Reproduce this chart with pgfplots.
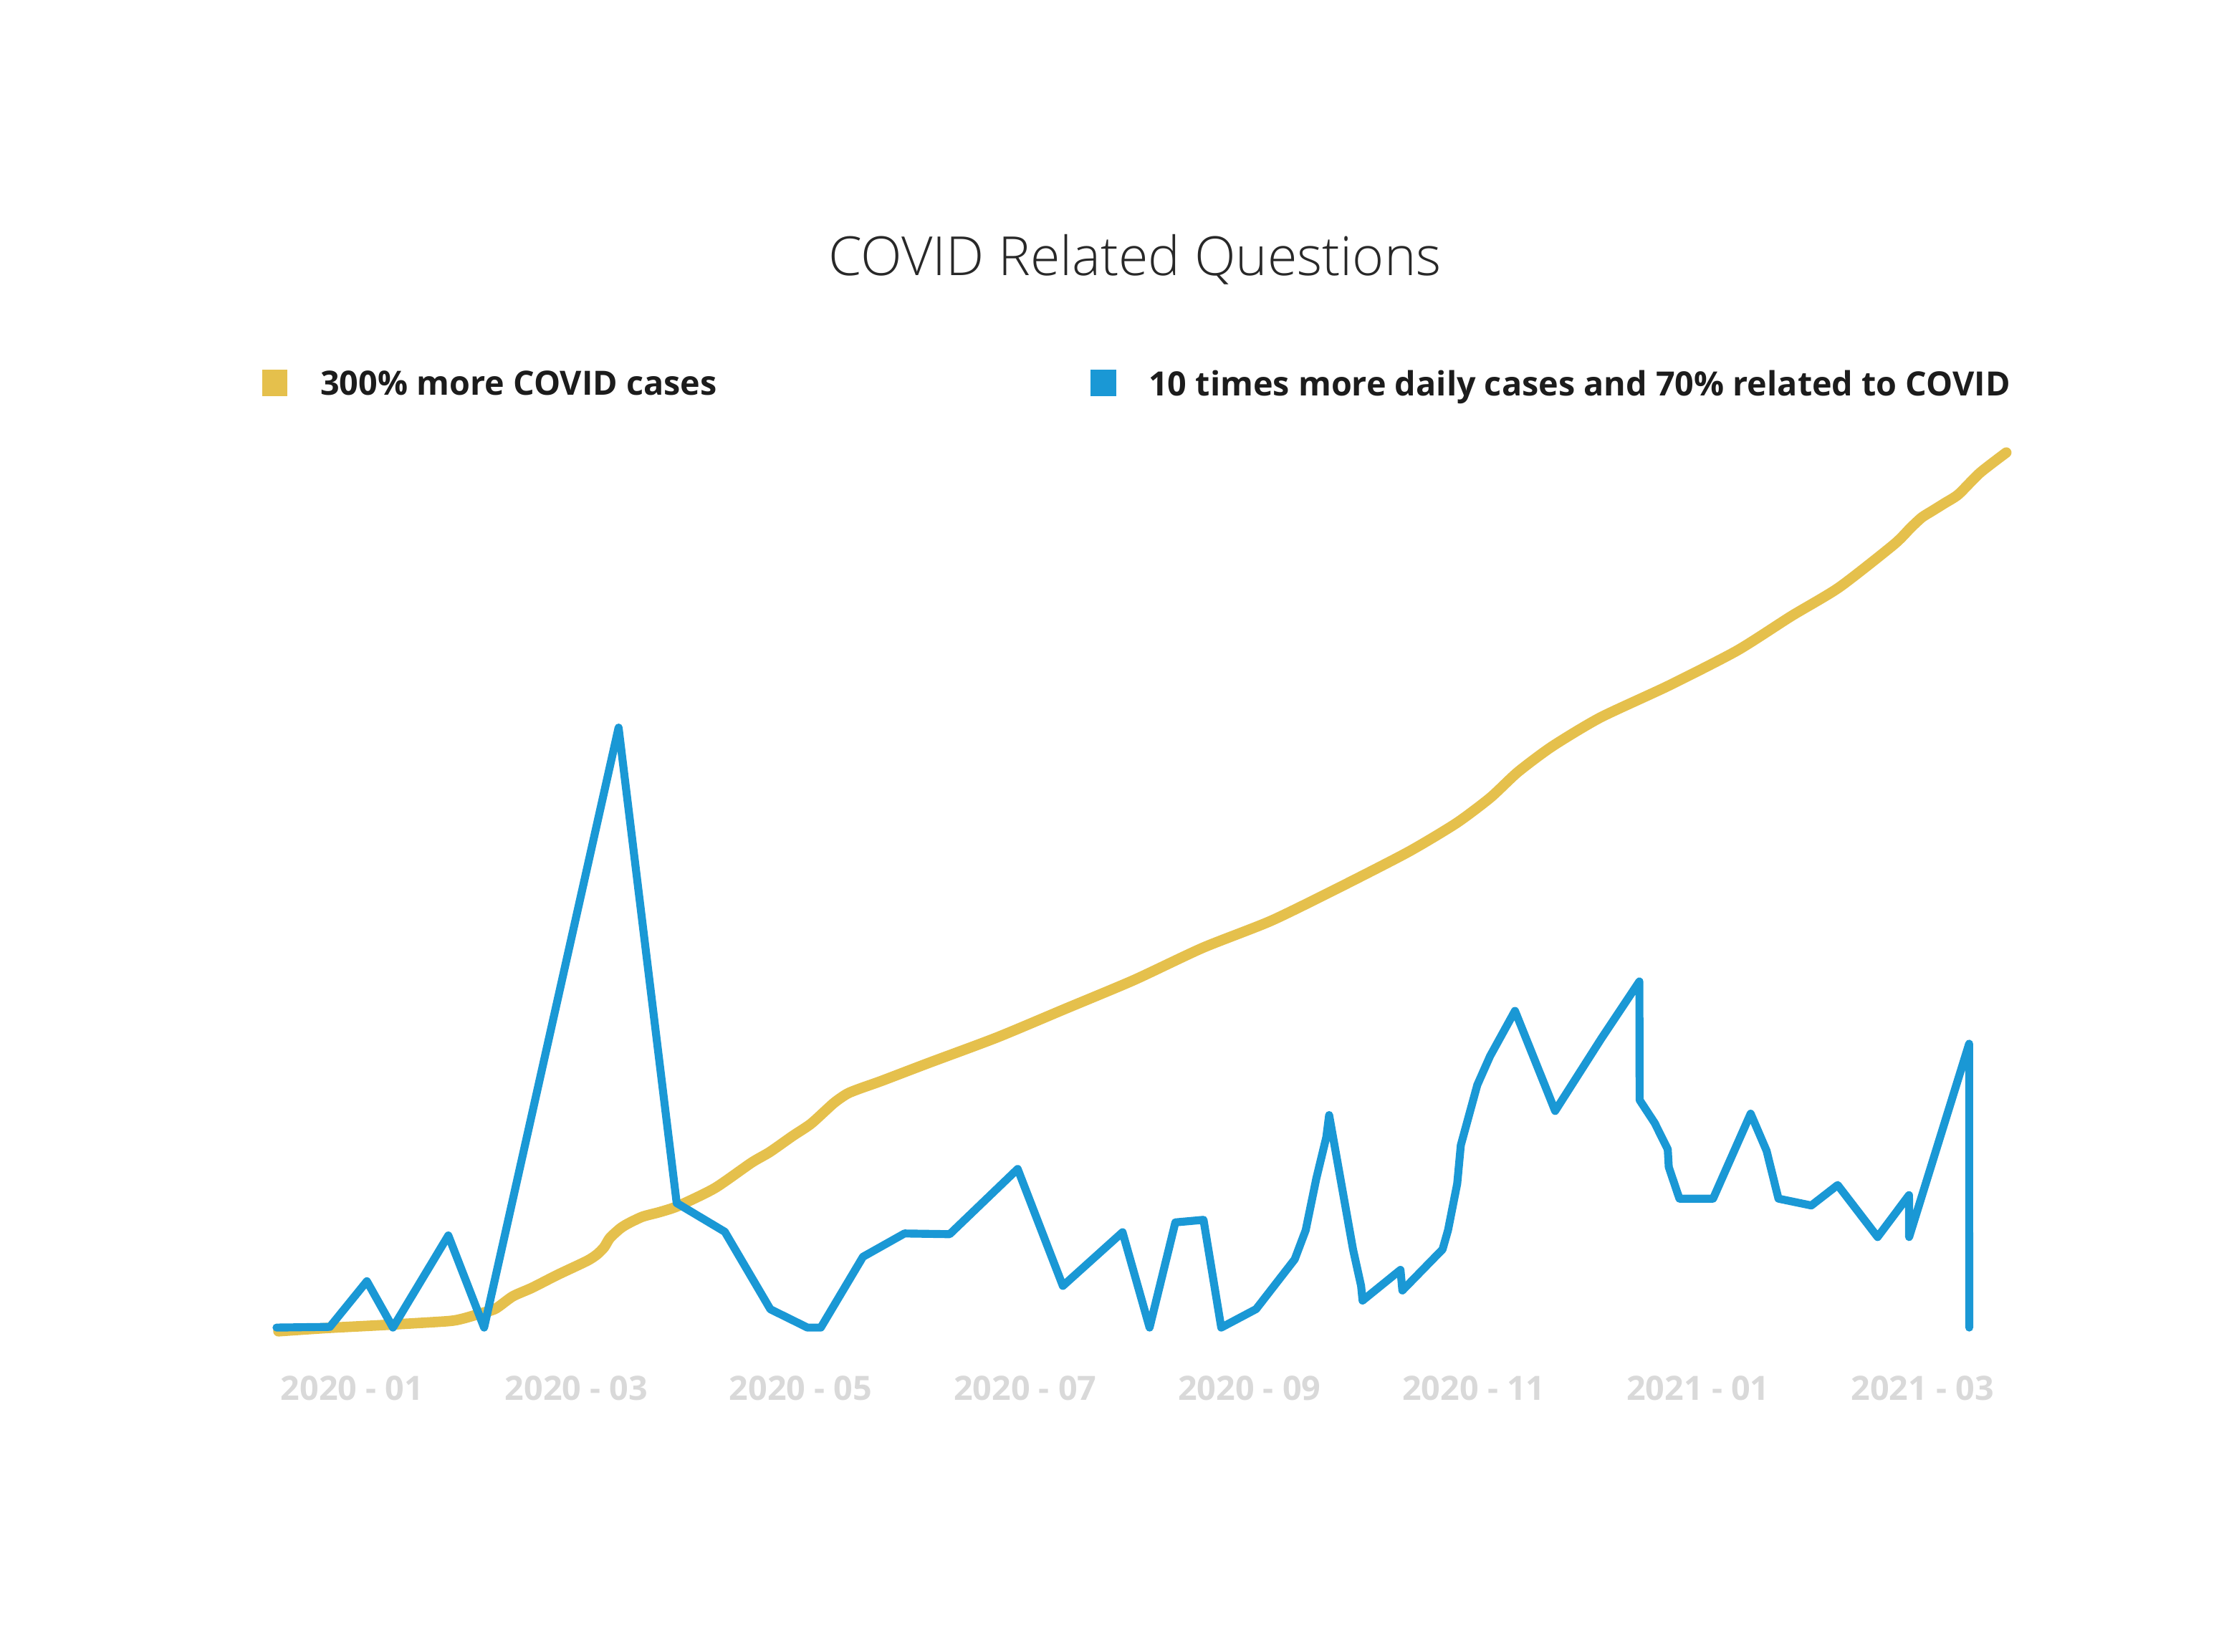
\documentclass[border=0pt]{standalone}
\usepackage{fontspec}
\setmainfont{Open Sans}
\newfontfamily\titlefontfam{Open Sans Light}
\usepackage{pgfplots}
\pgfplotsset{compat=1.18}
\definecolor{covyellow}{RGB}{229,192,76}
\definecolor{covblue}{RGB}{26,152,213}
\definecolor{tickgray}{RGB}{217,217,217}
\definecolor{legtext}{RGB}{28,28,28}
\definecolor{titlecol}{RGB}{40,40,40}
\begin{document}
\begin{tikzpicture}
\path[use as bounding box] (0,0) rectangle (15.68cm,11.62cm);
\begin{axis}[
  at={(1.945cm,2.28cm)}, anchor=south west,
  scale only axis, width=12.168cm, height=6.16cm,
  xmin=-0.674, xmax=14.748, ymin=0, ymax=616,
  clip=false,
  axis line style={draw=none},
  tick style={draw=none}, major tick length=0pt,
  ytick=\empty,
  xtick={0,2,4,6,8,10,12,14},
  xticklabels={{2020 - 01},{2020 - 03},{2020 - 05},{2020 - 07},{2020 - 09},{2020 - 11},{2021 - 01},{2021 - 03}},
  xticklabel style={font=\bfseries\fontsize{6.7pt}{8pt}\selectfont, text=tickgray, anchor=base, yshift=-0.51cm, inner sep=0pt},
  every axis title shift=0pt,
  title={COVID Related Questions},
  title style={at={(axis description cs:0.4962,1.2013)}, anchor=base, font=\titlefontfam\fontsize{10.8pt}{13pt}\selectfont, text=titlecol, inner sep=0pt},
  legend columns=2,
  legend cell align=left,
  legend image code/.code={\fill[draw=none] (0cm,-0.065cm) rectangle (0.178cm,0.12cm);},
  legend style={at={(axis description cs:-0.0082,1.0748)}, anchor=west, draw=none, fill=none, inner sep=0pt, outer sep=0pt,
    font=\bfseries\fontsize{6.7pt}{8pt}\selectfont, text=legtext, nodes={inner sep=0pt},
    /tikz/every odd column/.append style={column sep=0.23cm},
    /tikz/every even column/.append style={column sep=2.63cm}},
]
\addplot[color=covyellow, line width=2.1pt, line join=round, line cap=round, smooth, tension=0.4] coordinates {
(-0.657,-2.6) (-0.224,-0.3) (0.283,1.8) (0.853,4.5) (0.992,6.4) (1.148,10.0) (1.279,13.3)
(1.433,22.0) (1.605,28.0) (1.829,37) (2.094,46.9) (2.184,51.5) (2.247,56.5) (2.298,63)
(2.387,69.5) (2.456,73) (2.589,78) (2.745,81.3) (2.909,85.6) (3.234,98.1) (3.561,116)
(3.724,123.5) (3.928,134.8) (4.093,143.5) (4.294,157.9) (4.414,164.5) (4.526,168.1)
(4.719,173.5) (5.138,186.1) (5.749,204.1) (6.360,224.3) (6.971,244.5) (7.582,267.1)
(8.194,286.2) (8.805,309.8) (9.416,334.6) (9.844,354.8) (10.148,372.8) (10.393,390.8)
(10.698,408.8) (11.127,429.1) (11.738,451.6) (12.349,476.3) (12.831,500.5) (13.257,520.7)
(13.746,550.9) (13.896,562.7) (13.996,570) (14.087,574.5) (14.199,580) (14.322,586.2)
(14.513,601.3) (14.748,615.6)
};
\addlegendentry{300\% more COVID cases}
\addplot[color=covblue, line width=1.6pt, line join=round, line cap=round] coordinates {
(-0.674,0) (-0.198,0.5) (0.132,32.6) (0.364,0) (0.858,64.8) (1.177,0) (2.376,422.1)
(2.894,87.6) (3.323,67.4) (3.729,12.9) (4.060,0) (4.179,0) (4.555,49.8) (4.925,66.2)
(5.328,65.7) (5.934,111.6) (6.337,29.3) (6.869,67.1) (7.110,0) (7.340,74) (7.591,75.8)
(7.749,0) (8.060,13) (8.404,48) (8.502,68.5) (8.597,105) (8.686,134) (8.711,149.5)
(8.924,55) (8.996,29.3) (9.009,19) (9.347,40.6) (9.364,26.1) (9.722,55) (9.771,68.5)
(9.853,101.3) (9.885,128.3) (10.032,170.7) (10.146,191) (10.368,222.8) (10.726,152.4)
(11.139,203.5) (11.477,243.5) (11.479,160.1) (11.613,144) (11.730,125.4) (11.739,112.9)
(11.834,90.7) (12.134,90.7) (12.469,150.5) (12.611,124.4) (12.717,90.7) (13.010,85.9)
(13.245,100.3) (13.601,63.7) (13.881,93.2) (13.882,63.7) (14.417,199.7) (14.418,0)
};
\addlegendentry{10 times more daily cases and 70\% related to COVID}
\end{axis}
\end{tikzpicture}
\end{document}
